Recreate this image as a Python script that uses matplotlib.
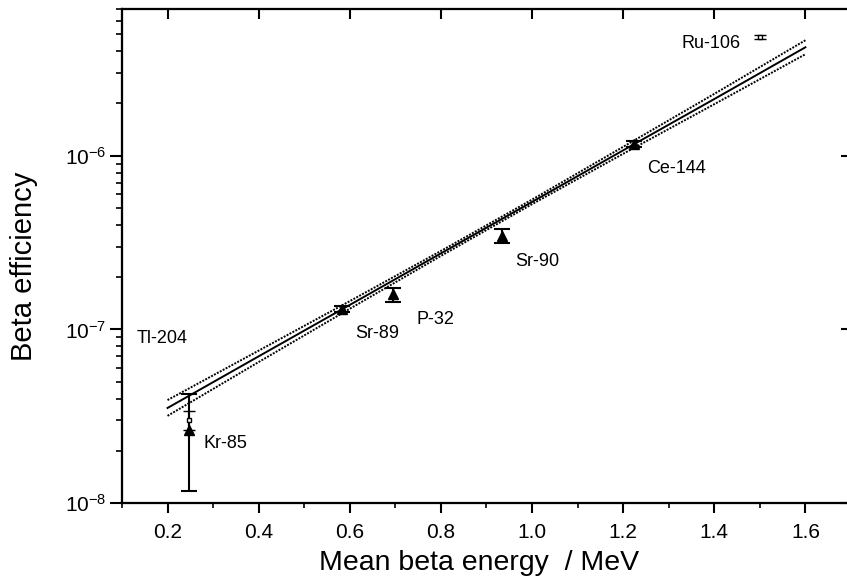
import matplotlib
matplotlib.use("Agg")
import matplotlib.pyplot as plt
from matplotlib.ticker import MultipleLocator, FormatStrFormatter, LogLocator, NullFormatter
import numpy as np

plt.rcParams['font.family'] = ['Liberation Sans', 'DejaVu Sans']
plt.rcParams['mathtext.fontset'] = 'custom'
plt.rcParams['mathtext.rm'] = 'Liberation Sans'
plt.rcParams['mathtext.it'] = 'Liberation Sans:italic'
plt.rcParams['mathtext.bf'] = 'Liberation Sans:bold'

# ---- data ----
# filled-triangle measurements
tri_energy = [0.247, 0.583, 0.695, 0.934, 1.224]
tri_eff = [2.64e-8, 1.31e-7, 1.59e-7, 3.45e-7, 1.17e-6]
tri_err_lo = [1.47e-8, 0.05e-7, 0.16e-7, 0.31e-7, 0.05e-6]
tri_err_hi = [1.63e-8, 0.05e-7, 0.14e-7, 0.34e-7, 0.05e-6]

# open-square measurements
sq_energy = [0.247, 1.500]
sq_eff = [3.02e-8, 4.81e-6]
sq_err_lo = [0.38e-8, 0.12e-6]
sq_err_hi = [0.38e-8, 0.12e-6]

# fitted line and confidence band
fit_energy = [0.2, 0.4, 0.6, 0.8, 1.0, 1.2, 1.4, 1.6]
fit_center = [3.53e-8, 7.00e-8, 1.384e-7, 2.74e-7, 5.42e-7, 1.074e-6, 2.12e-6, 4.21e-6]
fit_upper = [3.92e-8, 7.55e-8, 1.455e-7, 2.83e-7, 5.59e-7, 1.125e-6, 2.27e-6, 4.62e-6]
fit_lower = [3.18e-8, 6.49e-8, 1.315e-7, 2.65e-7, 5.26e-7, 1.026e-6, 1.98e-6, 3.84e-6]

# nuclide labels
label_text = ['Ru-106', 'Ce-144', 'Sr-90', 'P-32', 'Sr-89', 'Kr-85', 'Tl-204']
label_x = [1.329, 1.252, 0.962, 0.747, 0.611, 0.278, 0.133]
label_y = [4.44e-6, 8.41e-7, 2.47e-7, 1.14e-7, 9.48e-8, 2.19e-8, 8.87e-8]

x_ticks = [0.2, 0.4, 0.6, 0.8, 1.0, 1.2, 1.4, 1.6]

# ---- figure ----
fig = plt.figure(figsize=(8.47, 5.83), dpi=100)
ax = fig.add_axes([0.144, 0.137, 0.8607, 0.8477])
ax.set_yscale('log')
ax.set_xlim(0.1, 1.7)
ax.set_ylim(1e-8, 7e-6)

ax.plot(fit_energy, fit_center, color='black', lw=1.4)
ax.plot(fit_energy, fit_upper, color='black', lw=1.4, ls=(0, (1.0, 0.7)))
ax.plot(fit_energy, fit_lower, color='black', lw=1.4, ls=(0, (1.0, 0.7)))

ax.errorbar(tri_energy, tri_eff, yerr=[tri_err_lo, tri_err_hi], fmt='^',
            color='black', ms=7, capsize=6, elinewidth=1.5, capthick=1.5)
ax.errorbar(sq_energy, sq_eff, yerr=[sq_err_lo, sq_err_hi], fmt='s',
            color='black', mfc='white', ms=3.5, mew=1.0, capsize=4,
            elinewidth=1.5, capthick=1.5)

for t, x, y in zip(label_text, label_x, label_y):
    ax.text(x, y, t, ha='left', va='center', fontsize=13)

ax.set_xticks(x_ticks)
ax.xaxis.set_minor_locator(MultipleLocator(0.1))
ax.xaxis.set_major_formatter(FormatStrFormatter('%.1f'))
ax.yaxis.set_major_locator(LogLocator(base=10, numticks=10))
ax.yaxis.set_minor_locator(LogLocator(base=10, subs=np.arange(2, 10), numticks=20))
ax.yaxis.set_minor_formatter(NullFormatter())

ax.tick_params(axis='both', which='major', labelsize=15, width=1.5, direction='out')
ax.tick_params(axis='x', which='major', length=7, pad=7)
ax.tick_params(axis='x', which='minor', length=3.5, width=1.2, direction='out')
ax.tick_params(axis='y', which='major', length=9, pad=2)
ax.tick_params(axis='y', which='minor', length=4.5, width=1.2, direction='out')

for s in ax.spines.values():
    s.set_linewidth(1.5)

# right side: inward ticks
axr = ax.twinx()
axr.set_yscale('log')
axr.set_ylim(ax.get_ylim())
axr.yaxis.set_major_locator(LogLocator(base=10, numticks=10))
axr.yaxis.set_minor_locator(LogLocator(base=10, subs=np.arange(2, 10), numticks=20))
axr.tick_params(axis='y', which='major', direction='in', length=7, width=1.5, labelright=False)
axr.tick_params(axis='y', which='minor', direction='in', length=2, width=1.2)
axr.yaxis.set_major_formatter(NullFormatter())
axr.yaxis.set_minor_formatter(NullFormatter())

# top side: inward major ticks
axt = ax.twiny()
axt.set_xlim(ax.get_xlim())
axt.set_xticks(x_ticks)
axt.tick_params(axis='x', which='major', direction='in', length=7, width=1.5, labeltop=False)
axt.tick_params(axis='x', which='minor', length=0)
for a in (axr, axt):
    for s in a.spines.values():
        s.set_linewidth(1.5)

ax.set_xlabel('Mean beta energy  / MeV', fontsize=20.5)
ax.set_ylabel('Beta efficiency', fontsize=21)
ax.xaxis.set_label_coords(0.49, -0.095)
ax.yaxis.set_label_coords(-0.115, 0.48)

fig.savefig('out.png', dpi=100)
